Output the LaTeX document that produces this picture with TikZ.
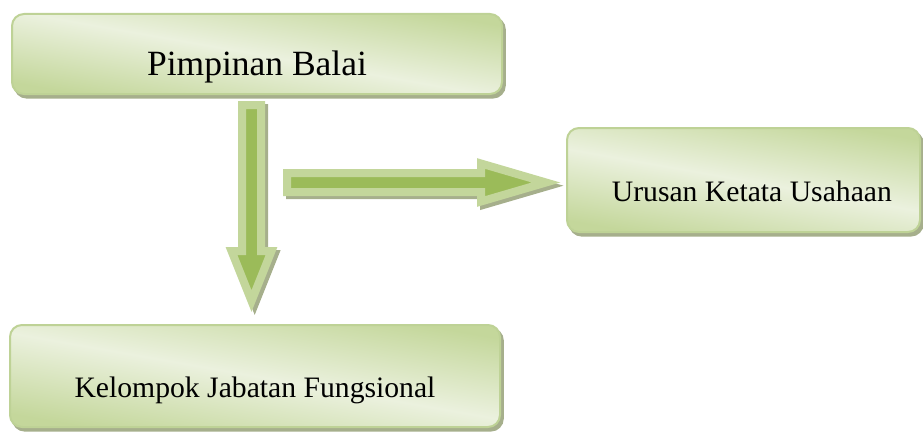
\documentclass[tikz,border=0pt]{standalone}
\usepackage{fontspec}
\setmainfont{Liberation Serif}
\usetikzlibrary{calc}
\definecolor{boxlight}{RGB}{235,241,222}
\definecolor{boxdark}{RGB}{196,215,155}
\definecolor{boxline}{RGB}{190,210,150}
\definecolor{arrowin}{RGB}{155,187,89}
\definecolor{arrowout}{RGB}{195,214,155}
\definecolor{shadowc}{RGB}{166,175,140}

\begin{document}
\begin{tikzpicture}[scale=1,
        unit box/.style={rounded corners=0.3cm, draw=boxline, line width=0.05cm,
            top color=boxdark, bottom color=boxdark, middle color=boxlight, shading angle=-10,
            preaction={fill=shadowc, draw=shadowc, transform canvas={shift={(0.07,-0.09)}}},
            text height=1.075cm, text depth=0pt, inner sep=0pt,
            font=\fontsize{21.1}{25}\selectfont},
        block arrow/.style={line width=0.2cm, line join=miter}]
        \useasboundingbox (0,0) rectangle (23.075,10.9);

        \node[unit box, minimum width=12.25cm, minimum height=2cm,
            font=\fontsize{25.25}{30}\selectfont] (pimpinan) at (6.425,9.55) {Pimpinan Balai};
        \node[unit box, minimum width=8.825cm, minimum height=2.6cm] (urusan) at (18.5875,6.4)
            {\hspace*{0.42cm}Urusan Ketata Usahaan};
        \node[unit box, minimum width=12.25cm, minimum height=2.55cm] (kelompok) at (6.375,1.5)
            {Kelompok Jabatan Fungsional};

        \coordinate (vtop) at ($(pimpinan.south)+(-0.1375,-0.25)$);
        \coordinate (vtip) at ($(kelompok.north)+(-0.0875,0.575)$);
        \coordinate (hstart) at (7.175,6.3375);
        \coordinate (htip) at ($(urusan.west)+(-0.5,-0.0625)$);

        \foreach \d/\edge/\core in {0.08/shadowc/shadowc, 0/arrowout/arrowin} {
            \draw[block arrow, draw=\edge, fill=\core, transform canvas={shift={(\d,-\d)}}]
                let \p1=(vtop), \p2=(vtip) in
                (\x1-0.2375cm,\y1) -- (\x1+0.2375cm,\y1) -- (\x1+0.2375cm,\y2+1.25cm)
                -- (\x1+0.5cm,\y2+1.25cm) -- (\x2,\y2) -- (\x1-0.5cm,\y2+1.25cm)
                -- (\x1-0.2375cm,\y2+1.25cm) -- cycle;
            \draw[block arrow, draw=\edge, fill=\core, transform canvas={shift={(\d,-\d)}}]
                let \p1=(hstart), \p2=(htip) in
                (\x1,\y2-0.2375cm) -- (\x1,\y2+0.2375cm) -- (\x2-1.625cm,\y2+0.2375cm)
                -- (\x2-1.625cm,\y2+0.475cm) -- (\x2,\y2) -- (\x2-1.625cm,\y2-0.475cm)
                -- (\x2-1.625cm,\y2-0.2375cm) -- cycle;
        }
    \end{tikzpicture}
\end{document}
